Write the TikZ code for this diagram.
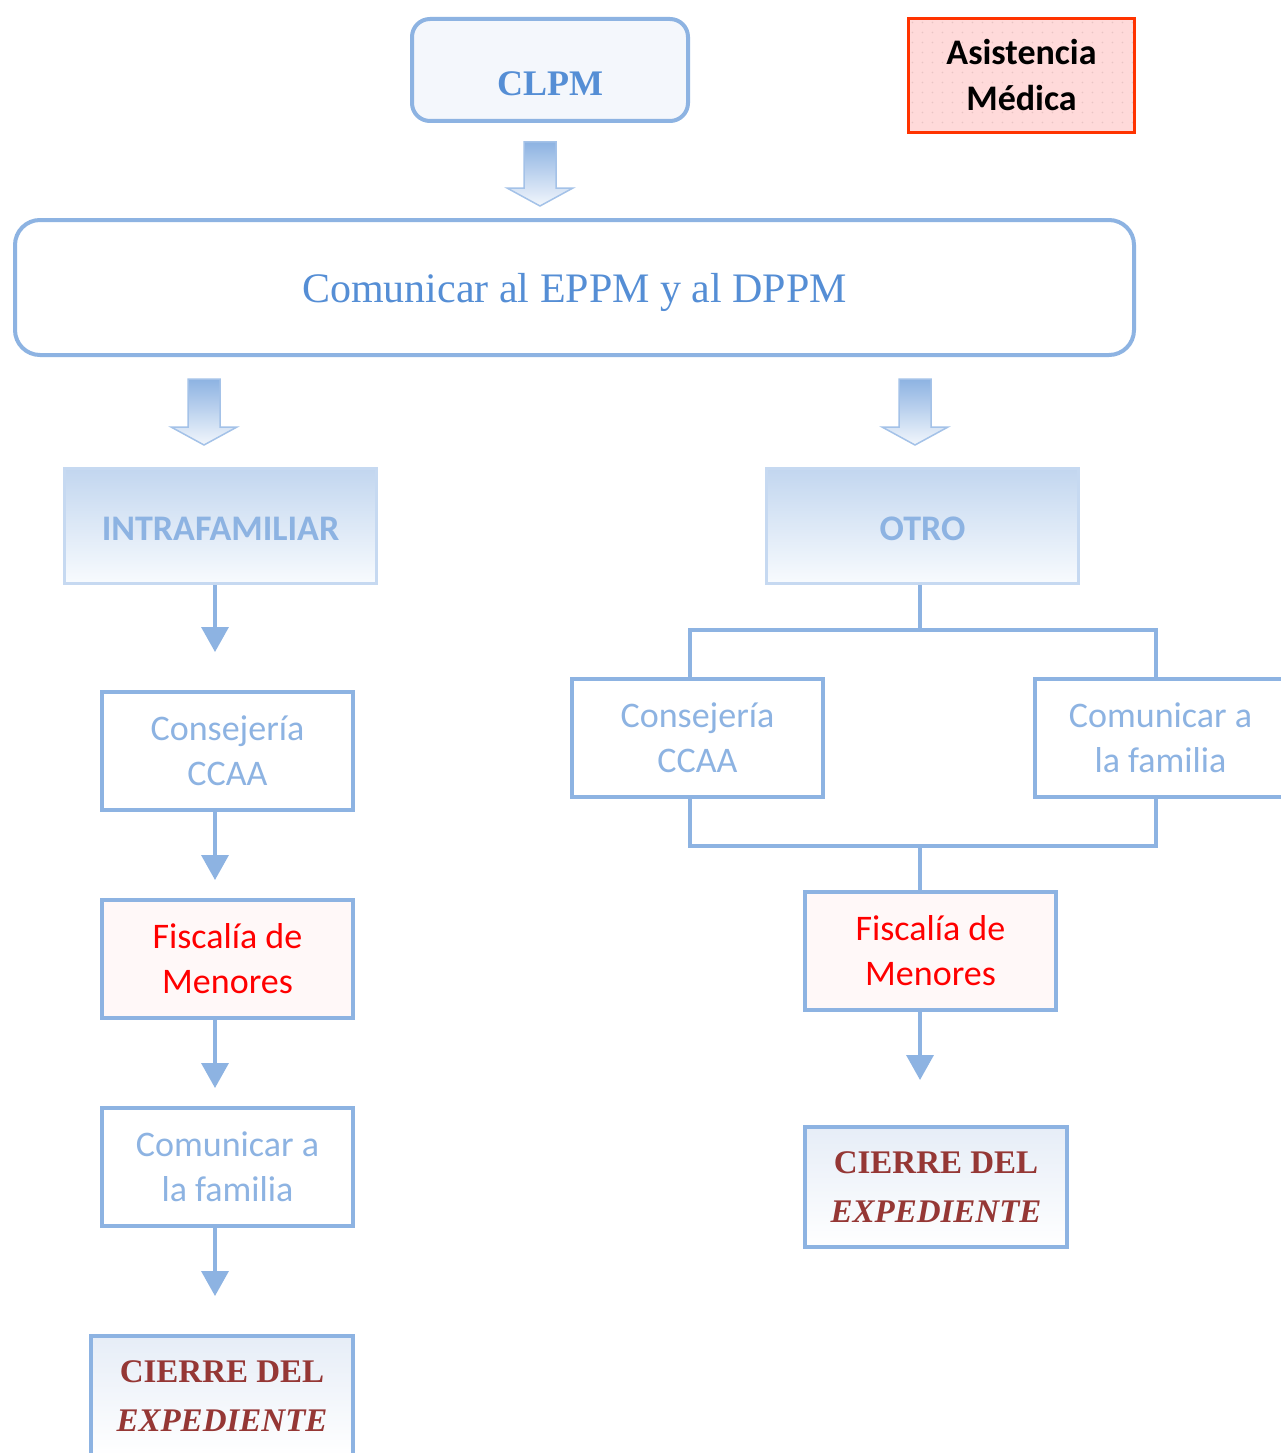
\documentclass[tikz,border=0pt]{standalone}
\usepackage{fontspec}
\setmainfont{Liberation Serif}
\newfontfamily\calibri{Carlito}
\usetikzlibrary{arrows.meta}
\definecolor{bordblue}{HTML}{8DB3E2}
\definecolor{txtblue}{HTML}{558ED5}
\definecolor{lightblue}{HTML}{C6D9F1}
\definecolor{intratop}{HTML}{C2D6EF}
\definecolor{intrabot}{HTML}{F8FBFE}
\definecolor{darkred}{HTML}{953735}
\definecolor{asisfill}{HTML}{FFDADA}
\definecolor{asisborder}{HTML}{FF3300}
\definecolor{dotc}{HTML}{E8C4C4}
\definecolor{fiscfill}{HTML}{FFF8F8}
\definecolor{cierretop}{HTML}{E6EDF7}
\definecolor{clpmfill}{HTML}{F4F7FC}
\definecolor{fatbottom}{HTML}{F2F6FC}
\newcommand\fatarrow[4]{%
  \path[fatarr] (#1-16,#2) -- (#1+16,#2) -- (#1+16,#3) -- (#1+33,#3) -- (#1,#4) -- (#1-33,#3) -- (#1-16,#3) -- cycle;}
\begin{document}
\begin{tikzpicture}[x=1pt,y=-1pt,
  box/.style={draw=bordblue, line width=4pt, minimum width=251pt, minimum height=118pt,
    inner sep=0pt, align=center, font=\calibri\fontsize{36}{45}\selectfont, text=bordblue, fill=white},
  fisc/.style={box, fill=fiscfill, text=red},
  cierre/.style={box, minimum width=262pt, minimum height=120pt, top color=cierretop, bottom color=white,
    font=\bfseries\fontsize{33}{49}\selectfont, text=darkred},
  cat/.style={draw=lightblue, line width=3pt, minimum width=312pt, minimum height=115pt, inner sep=0pt,
    top color=intratop, bottom color=intrabot, font=\calibri\bfseries\fontsize{36}{44}\selectfont, text=bordblue,
    text height=29pt, text depth=0pt},
  conn/.style={draw=bordblue, line width=3.5pt, -{Triangle[width=27pt,length=25pt]}},
  link/.style={draw=bordblue, line width=3.5pt},
  fatarr/.style={draw=bordblue!80, line width=1.5pt, top color=bordblue, bottom color=fatbottom, line join=miter}
]
\path[fill=white, use as bounding box] (0,0) rectangle (1280,1453);

% top
\node[draw=bordblue, line width=4pt, rounded corners=18pt, minimum width=276pt, minimum height=102pt,
  fill=clpmfill, inner sep=0pt, font=\bfseries\fontsize{36}{44}\selectfont, text=txtblue,
  text height=51pt, text depth=0pt] (clpm) at (550,70) {CLPM};
\node[draw=asisborder, line width=3.5pt, minimum width=226pt, minimum height=114pt, fill=asisfill,
  inner sep=0pt, align=center, font=\calibri\bfseries\fontsize{36}{46}\selectfont, text=black,
  path picture={\foreach \i in {0,...,23}{\foreach \j in {0,...,11}{
    \fill[dotc] ([shift={(4+\i*10,4+\j*10)}]path picture bounding box.north west) circle (0.9pt);}}}]
  (asis) at (1021.5,75.5) {Asistencia\\Médica};
\node[draw=bordblue, line width=4pt, rounded corners=25pt, minimum width=1119pt, minimum height=135pt,
  fill=white, inner sep=0pt, font=\fontsize{42}{50}\selectfont, text=txtblue,
  text height=30pt, text depth=0pt] (big) at (574.5,287.5)
  {Comunicar al EPPM y al DPPM};

\fatarrow{540}{142}{188}{206}
\fatarrow{204}{379}{427}{445}
\fatarrow{915}{379}{427}{445}

% categories
\node[cat] (intra) at (220.5,526) {INTRAFAMILIAR};
\node[cat] (otro) at (922.5,526) {OTRO};

% left column
\node[box] (consl) at (227.5,751) {Consejería\\CCAA};
\node[fisc] (fiscl) at (227.5,959) {Fiscalía de\\Menores};
\node[box] (coml) at (227.5,1167) {Comunicar a\\la familia};
\node[cierre] (cierl) at (222,1396) {CIERRE DEL\\\textit{EXPEDIENTE}};

\coordinate (xl) at (215,0);
\draw[conn, shorten >=38pt] (intra.south -| xl) -- (consl.north -| xl);
\draw[conn, shorten >=18pt] (consl.south -| xl) -- (fiscl.north -| xl);
\draw[conn, shorten >=18pt] (fiscl.south -| xl) -- (coml.north -| xl);
\draw[conn, shorten >=38pt] (coml.south -| xl) -- (cierl.north -| xl);

% right column
\node[box] (consr) at (697.5,738) {Consejería\\CCAA};
\node[box] (comr) at (1160.5,738) {Comunicar a\\la familia};
\node[fisc] (fiscr) at (930.5,950.5) {Fiscalía de\\Menores};
\node[cierre] (cierr) at (936,1187) {CIERRE DEL\\\textit{EXPEDIENTE}};

\coordinate (tj) at (920,630);
\coordinate (tl) at (690,630);
\coordinate (tr) at (1156,630);
\coordinate (bj) at (920,846);
\coordinate (bl) at (690,846);
\coordinate (br) at (1156,846);
\draw[link] (otro.south -| tj) -- (tj);
\draw[link, line cap=rect] (tl) -- (tr);
\draw[link] (tl) -- (consr.north -| tl);
\draw[link] (tr) -- (comr.north -| tr);
\draw[link] (consr.south -| bl) -- (bl);
\draw[link] (comr.south -| br) -- (br);
\draw[link, line cap=rect] (bl) -- (br);
\draw[link] (bj) -- (fiscr.north -| bj);
\draw[conn, shorten >=45pt] (fiscr.south -| bj) -- (cierr.north -| bj);
\end{tikzpicture}
\end{document}
